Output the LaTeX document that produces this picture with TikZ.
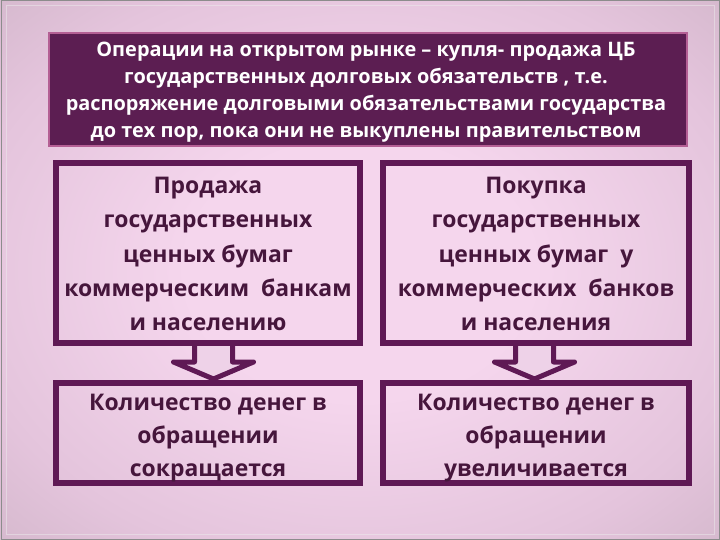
\documentclass[tikz,border=0pt]{standalone}
\usepackage{fontspec}
\setmainfont{Open Sans}
\definecolor{topfill}{RGB}{92,30,82}
\definecolor{topborder}{RGB}{180,95,148}
\definecolor{boxline}{RGB}{95,25,85}
\definecolor{boxtext}{RGB}{70,22,60}
\definecolor{arrowfill}{RGB}{238,210,232}
\definecolor{bgin}{RGB}{245,214,237}
\definecolor{bgmid}{RGB}{228,196,220}
\definecolor{bgedge}{RGB}{188,165,180}
\definecolor{bgout}{RGB}{152,138,145}
\pgfdeclareradialshading{bgshade}{\pgfpoint{0bp}{0bp}}{color(0bp)=(bgin); color(12bp)=(bgin); color(28bp)=(bgmid); color(50bp)=(bgedge); color(71bp)=(bgout)}
\tikzset{
  topbox/.style={draw=topborder, line width=2bp, fill=topfill, inner sep=0pt},
  lowbox/.style={draw=boxline, line width=6bp, inner sep=0pt},
  toptextstyle/.style={text=white, font=\bfseries\fontsize{20}{27}\selectfont, align=center, inner sep=0pt},
  lowtext/.style={text=boxtext, font=\bfseries\fontsize{23}{34.5}\selectfont, align=center, inner sep=0pt},
  blockarrow/.style={draw=boxline, line width=5bp, fill=arrowfill, line join=round}
}
\begin{document}
\begin{tikzpicture}[x=1bp,y=-1bp]
\useasboundingbox (0,0) rectangle (720,540);
\shade[shading=bgshade] (0,0) rectangle (720,540);
\draw[black!45, line width=1bp] (1,1) rectangle (719,539);
\draw[white!85!gray, line width=1bp, opacity=0.5] (6,6) rectangle (714,534);
% arrows
\draw[blockarrow] (194.5,343) -- (194.5,362) -- (173.5,362) -- (213.5,379) -- (253.5,362) -- (232.5,362) -- (232.5,343);
\draw[blockarrow] (515.5,343) -- (515.5,362) -- (494.5,362) -- (534.5,379) -- (574.5,362) -- (553.5,362) -- (553.5,343);
% top box
\node[topbox, minimum width=638bp, minimum height=113bp] (top) at (368,89.5) {};
\node[toptextstyle] (toptext) at (366,92)
 {Операции на открытом рынке – купля- продажа ЦБ\\государственных долговых обязательств , т.е.\\распоряжение долговыми обязательствами государства\\до тех пор, пока они не выкуплены правительством};
% lower boxes
\node[lowbox, minimum width=304bp, minimum height=180bp] (sell) at (208,253) {};
\node[lowbox, minimum width=306bp, minimum height=180bp] (buy) at (536,253) {};
\node[lowbox, minimum width=304bp, minimum height=100bp] (less) at (208,433) {};
\node[lowbox, minimum width=306bp, minimum height=100bp] (more) at (536,433) {};
\node[lowtext] (selltext) at ([yshift=-1bp]sell.center)
 {Продажа\\государственных\\ценных бумаг\\коммерческим\ \ банкам\\и населению};
\node[lowtext] (buytext) at ([yshift=-1bp]buy.center)
 {Покупка\\государственных\\ценных бумаг\ \ у\\коммерческих\ \ банков\\и населения};
\node[lowtext, font=\bfseries\fontsize{23}{33}\selectfont] (lesstext) at ([yshift=-5bp]less.center)
 {Количество денег в\\обращении\\сокращается};
\node[lowtext, font=\bfseries\fontsize{23}{33}\selectfont] (moretext) at ([yshift=-5bp]more.center)
 {Количество денег в\\обращении\\увеличивается};
\end{tikzpicture}
\end{document}
